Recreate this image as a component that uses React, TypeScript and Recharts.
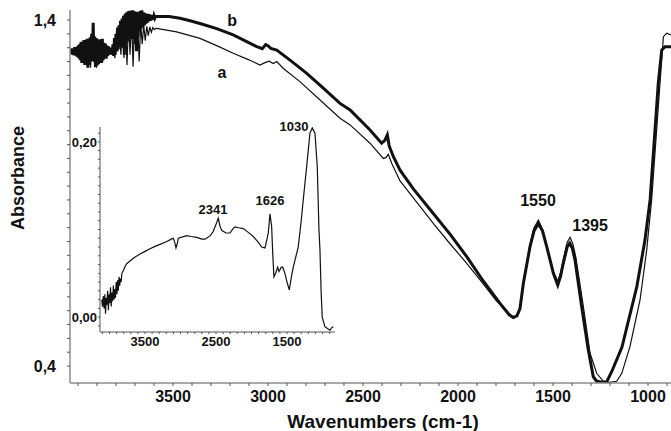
import React from 'react';
import { LineChart, Line, XAxis, YAxis, ReferenceDot, Label } from 'recharts';

const FONT = "'Liberation Sans', Arial, Helvetica, sans-serif";

// ---- Main spectrum, curve b (thick) : [wavenumber, absorbance]
const bNoise: [number, number][] = [
  [4040, 1.312], [4036, 1.304], [4032, 1.318], [4028, 1.300], [4024, 1.316], [4020, 1.298],
  [4016, 1.322], [4012, 1.302], [4008, 1.320], [4004, 1.294], [4000, 1.326], [3996, 1.290],
  [3992, 1.330], [3988, 1.284], [3984, 1.336], [3980, 1.276], [3976, 1.338], [3972, 1.282],
  [3968, 1.342], [3964, 1.270], [3960, 1.334], [3956, 1.276], [3952, 1.346], [3948, 1.262],
  [3944, 1.340], [3940, 1.270], [3936, 1.350], [3932, 1.280], [3928, 1.360], [3924, 1.300],
  [3920, 1.392], [3916, 1.280], [3912, 1.352], [3908, 1.264], [3904, 1.348], [3900, 1.268],
  [3896, 1.340], [3892, 1.272], [3888, 1.344], [3884, 1.280], [3880, 1.338], [3876, 1.276],
  [3872, 1.346], [3868, 1.284], [3864, 1.334], [3860, 1.290], [3856, 1.332], [3852, 1.288],
  [3848, 1.326], [3844, 1.296], [3840, 1.324], [3836, 1.300], [3832, 1.320], [3828, 1.302],
  [3824, 1.318], [3820, 1.300], [3816, 1.330], [3812, 1.296], [3808, 1.348], [3804, 1.300],
  [3800, 1.360], [3796, 1.310], [3792, 1.378], [3788, 1.316], [3784, 1.385], [3780, 1.322],
  [3776, 1.398], [3772, 1.330], [3768, 1.404], [3764, 1.320], [3760, 1.412], [3756, 1.300],
  [3752, 1.418], [3748, 1.330], [3744, 1.422], [3740, 1.338], [3736, 1.425], [3732, 1.350],
  [3728, 1.427], [3724, 1.356], [3720, 1.426], [3716, 1.345], [3712, 1.428], [3708, 1.352],
  [3704, 1.425], [3700, 1.330], [3696, 1.424], [3692, 1.310], [3688, 1.420], [3684, 1.350],
  [3680, 1.424], [3676, 1.368], [3672, 1.426], [3668, 1.375], [3664, 1.428], [3660, 1.380],
  [3656, 1.422], [3652, 1.384], [3648, 1.420], [3644, 1.388], [3640, 1.418], [3636, 1.392],
  [3632, 1.418], [3628, 1.396], [3624, 1.416], [3620, 1.398], [3616, 1.415], [3612, 1.400],
  [3608, 1.414], [3604, 1.402], [3600, 1.412], [3596, 1.405], [3592, 1.410],
];
const bSmooth: [number, number][] = [
  [3586, 1.410], [3520, 1.410], [3463, 1.405], [3410, 1.398], [3358, 1.390], [3270, 1.375],
  [3183, 1.357], [3120, 1.340], [3059, 1.323], [3030, 1.317], [3012, 1.329], [3000, 1.326],
  [2985, 1.318], [2954, 1.313], [2884, 1.284], [2796, 1.246], [2709, 1.203], [2621, 1.159],
  [2568, 1.140], [2463, 1.082], [2402, 1.044], [2385, 1.052], [2372, 1.068], [2362, 1.036],
  [2340, 1.005], [2305, 0.966], [2235, 0.912], [2130, 0.841], [2040, 0.780], [1954, 0.716],
  [1870, 0.648], [1779, 0.581], [1730, 0.548], [1709, 0.540], [1690, 0.545], [1674, 0.565],
  [1656, 0.639], [1621, 0.745], [1600, 0.790], [1577, 0.812], [1555, 0.790], [1533, 0.745],
  [1498, 0.668], [1475, 0.634], [1460, 0.660], [1446, 0.697], [1425, 0.745], [1412, 0.755],
  [1398, 0.740], [1384, 0.706], [1349, 0.571], [1314, 0.446], [1288, 0.369], [1270, 0.356],
  [1240, 0.353], [1217, 0.355], [1190, 0.385], [1137, 0.455], [1059, 0.629], [1016, 0.764],
  [989, 0.880], [946, 1.217], [928, 1.313], [911, 1.323], [879, 1.323],
];

// ---- Main spectrum, curve a (thin)
const aNoise: [number, number][] = [
  [4038, 1.310], [4030, 1.304], [4022, 1.318], [4014, 1.300], [4006, 1.316], [3998, 1.295],
  [3990, 1.325], [3982, 1.285], [3974, 1.330], [3966, 1.270], [3958, 1.338], [3950, 1.268],
  [3942, 1.335], [3934, 1.262], [3926, 1.330], [3918, 1.280], [3910, 1.340], [3902, 1.262],
  [3894, 1.330], [3886, 1.290], [3878, 1.325], [3870, 1.280], [3862, 1.320], [3854, 1.300],
  [3846, 1.318], [3838, 1.305], [3830, 1.315], [3822, 1.300], [3814, 1.330], [3806, 1.290],
  [3798, 1.350], [3790, 1.310], [3782, 1.370], [3774, 1.300], [3766, 1.385], [3758, 1.290],
  [3750, 1.395], [3742, 1.270], [3734, 1.400], [3726, 1.300], [3718, 1.405], [3710, 1.265],
  [3702, 1.400], [3694, 1.320], [3686, 1.395], [3678, 1.280], [3670, 1.390], [3662, 1.330],
  [3654, 1.385], [3646, 1.340], [3638, 1.382], [3630, 1.355], [3622, 1.380], [3614, 1.365],
  [3606, 1.378], [3598, 1.372], [3590, 1.376],
];
const aSmooth: [number, number][] = [
  [3586, 1.376], [3481, 1.366], [3358, 1.347], [3270, 1.326], [3183, 1.304], [3100, 1.285],
  [3042, 1.270], [3016, 1.277], [2995, 1.281], [2972, 1.274], [2954, 1.280], [2919, 1.260],
  [2832, 1.222], [2726, 1.169], [2621, 1.116], [2568, 1.097], [2463, 1.044], [2393, 1.000],
  [2378, 1.003], [2367, 1.012], [2349, 0.986], [2305, 0.935], [2235, 0.886], [2130, 0.812],
  [2040, 0.752], [1954, 0.697], [1884, 0.649], [1800, 0.590], [1779, 0.578], [1730, 0.546],
  [1709, 0.541], [1690, 0.546], [1674, 0.566], [1656, 0.640], [1621, 0.752], [1600, 0.800],
  [1577, 0.822], [1555, 0.795], [1533, 0.748], [1498, 0.672], [1475, 0.645], [1460, 0.670],
  [1446, 0.708], [1425, 0.758], [1410, 0.772], [1395, 0.752], [1380, 0.715], [1340, 0.571],
  [1305, 0.437], [1270, 0.379], [1235, 0.356], [1200, 0.353], [1165, 0.356], [1138, 0.379],
  [1095, 0.456], [1042, 0.591], [1007, 0.735], [981, 0.880], [937, 1.217], [919, 1.352],
  [902, 1.362], [879, 1.357],
];

// ---- Inset: difference spectrum
const insetSeries: [number, number][] = [
  [4110, 0.020], [4098, 0.012], [4088, 0.024], [4076, 0.010], [4066, 0.026], [4056, 0.004],
  [4046, 0.022], [4036, 0.014], [4026, 0.030], [4016, 0.008], [4006, 0.026], [3996, 0.016],
  [3986, 0.034], [3976, 0.012], [3966, 0.028], [3956, 0.018], [3946, 0.036], [3936, 0.020],
  [3926, 0.032], [3916, 0.022], [3906, 0.040], [3896, 0.026], [3886, 0.042], [3876, 0.030],
  [3866, 0.046], [3856, 0.036], [3846, 0.044], [3836, 0.040], [3826, 0.050], [3806, 0.053],
  [3780, 0.058], [3758, 0.061], [3711, 0.064], [3650, 0.068], [3570, 0.072], [3500, 0.075],
  [3430, 0.078], [3350, 0.081], [3289, 0.083], [3200, 0.086], [3130, 0.089], [3102, 0.090],
  [3080, 0.085], [3064, 0.079], [3045, 0.084], [3031, 0.090], [2913, 0.093], [2850, 0.092],
  [2772, 0.091], [2700, 0.089], [2655, 0.089], [2580, 0.093], [2538, 0.098], [2490, 0.108],
  [2468, 0.113], [2445, 0.104], [2420, 0.099], [2360, 0.096], [2303, 0.096], [2260, 0.101],
  [2233, 0.103], [2180, 0.102], [2116, 0.101], [2050, 0.097], [1975, 0.092], [1900, 0.085],
  [1857, 0.080], [1810, 0.079], [1780, 0.090], [1764, 0.096], [1740, 0.118], [1716, 0.103],
  [1700, 0.070], [1684, 0.046], [1660, 0.050], [1632, 0.057], [1612, 0.052], [1599, 0.054],
  [1580, 0.057], [1561, 0.057], [1529, 0.050], [1500, 0.040], [1468, 0.031], [1440, 0.045],
  [1412, 0.057], [1342, 0.080], [1300, 0.110], [1271, 0.134], [1223, 0.172], [1177, 0.210],
  [1144, 0.216], [1106, 0.210], [1074, 0.172], [1050, 0.100], [1036, 0.077], [1020, 0.030],
  [1004, 0.000], [966, -0.011], [930, -0.013], [895, -0.015], [870, -0.012], [849, -0.011],
];

// ---- Tick labels
const mainXLabels = [3500, 3000, 2500, 2000, 1500, 1000];
const mainYLabels: Record<string, string> = { '1.4': '1,4', '0.4': '0,4' };
const insetXLabels = [3500, 2500, 1500];
const insetYLabels: Record<string, string> = { '0.2': '0,20', '0': '0,00' };

// ---- Annotations
const mainNotes = [
  { x: 3189, y: 1.4, text: 'b' },
  { x: 3242, y: 1.25, text: 'a' },
  { x: 1579, y: 0.88, text: '1550' },
  { x: 1305, y: 0.808, text: '1395' },
];
const insetNotes = [
  { x: 1402, y: 0.218, text: '1030' },
  { x: 1740, y: 0.133, text: '1626' },
  { x: 2543, y: 0.123, text: '2341' },
];

const rows = (p: [number, number][]) => p.map(([x, y]) => ({ x, y }));
const bRows = rows([...bNoise, ...bSmooth]);
const aRows = rows([...aNoise, ...aSmooth]);
const insetRows = rows(insetSeries);

const range = (a: number, b: number, s: number) => {
  const out: number[] = [];
  for (let v = a; v <= b + 1e-9; v += s) out.push(Math.round(v * 1000) / 1000);
  return out;
};
const mainXTicks = range(900, 4000, 100);
const mainYTicks = range(0.4, 1.4, 0.04);
const insetXTicks = range(900, 4100, 100);
const insetYTicks = range(-0.01, 0.21, 0.01);

const axisStyle = { stroke: '#8c8c8c', strokeWidth: 1.5 };
const tickLineStyle = { stroke: '#555', strokeWidth: 1 };

export default function App() {
  const mainTick = { fontSize: 16, fontWeight: 'bold', fill: '#111', fontFamily: FONT };
  const insetTick = { fontSize: 13, fontWeight: 'bold', fill: '#111', fontFamily: FONT };
  return (
    <div style={{ position: 'absolute', left: 0, top: 0, width: 671, height: 431, background: '#fff' }}>
      <div style={{ position: 'absolute', left: 0, top: 0 }}>
        <LineChart width={671} height={431} margin={{ top: 10, right: 0, bottom: 0, left: 0 }}>
          <XAxis
            type="number"
            dataKey="x"
            domain={[879, 4042]}
            reversed
            allowDataOverflow
            ticks={mainXTicks}
            interval={0}
            tickFormatter={(v: number) => (mainXLabels.includes(v) ? String(v) : '')}
            height={48}
            axisLine={axisStyle}
            tickLine={tickLineStyle}
            tickSize={3}
            tickMargin={5}
            tick={mainTick}
          />
          <YAxis
            type="number"
            domain={[0.351, 1.429]}
            allowDataOverflow
            ticks={mainYTicks}
            interval={0}
            tickFormatter={(v: number) => mainYLabels[String(v)] ?? ''}
            width={70}
            axisLine={axisStyle}
            tickLine={tickLineStyle}
            tickSize={3}
            tickMargin={11}
            tick={mainTick}
          />
          <Line data={aRows} dataKey="y" type="linear" stroke="#111" strokeWidth={1.2} dot={false} isAnimationActive={false} />
          <Line data={bRows} dataKey="y" type="linear" stroke="#111" strokeWidth={3} dot={false} isAnimationActive={false} />
          {mainNotes.map((n) => (
            <ReferenceDot key={n.text} x={n.x} y={n.y} r={0} fill="none" stroke="none" ifOverflow="visible">
              <Label value={n.text} position="center" fontSize={16} fontWeight="bold" fill="#111" fontFamily={FONT} />
            </ReferenceDot>
          ))}
        </LineChart>
      </div>
      <div style={{ position: 'absolute', left: 60, top: 117 }}>
        <LineChart width={280} height={240} margin={{ top: 10, right: 5, bottom: 0, left: 0 }}>
          <XAxis
            type="number"
            dataKey="x"
            domain={[824, 4134]}
            reversed
            allowDataOverflow
            ticks={insetXTicks}
            interval={0}
            tickFormatter={(v: number) => (insetXLabels.includes(v) ? String(v) : '')}
            height={25}
            axisLine={axisStyle}
            tickLine={tickLineStyle}
            tickSize={2}
            tickMargin={3}
            tick={insetTick}
          />
          <YAxis
            type="number"
            domain={[-0.017, 0.217]}
            allowDataOverflow
            ticks={insetYTicks}
            interval={0}
            tickFormatter={(v: number) => insetYLabels[String(v)] ?? ''}
            width={40}
            axisLine={axisStyle}
            tickLine={tickLineStyle}
            tickSize={2}
            tickMargin={1}
            tick={insetTick}
          />
          <Line data={insetRows} dataKey="y" type="linear" stroke="#111" strokeWidth={1.2} dot={false} isAnimationActive={false} />
          {insetNotes.map((n) => (
            <ReferenceDot key={n.text} x={n.x} y={n.y} r={0} fill="none" stroke="none" ifOverflow="visible">
              <Label value={n.text} position="center" fontSize={13} fontWeight="bold" fill="#111" fontFamily={FONT} />
            </ReferenceDot>
          ))}
        </LineChart>
      </div>
      <svg width={671} height={431} style={{ position: 'absolute', left: 0, top: 0, pointerEvents: 'none' }}>
        <text x={18} y={178} transform="rotate(-90 18 178)" textAnchor="middle" dominantBaseline="central"
          fontSize={18} fontWeight="bold" fill="#111" fontFamily={FONT}>Absorbance</text>
        <text x={383} y={428} textAnchor="middle" fontSize={19} fontWeight="bold" fill="#111" fontFamily={FONT}>
          Wavenumbers (cm-1)
        </text>
      </svg>
    </div>
  );
}
